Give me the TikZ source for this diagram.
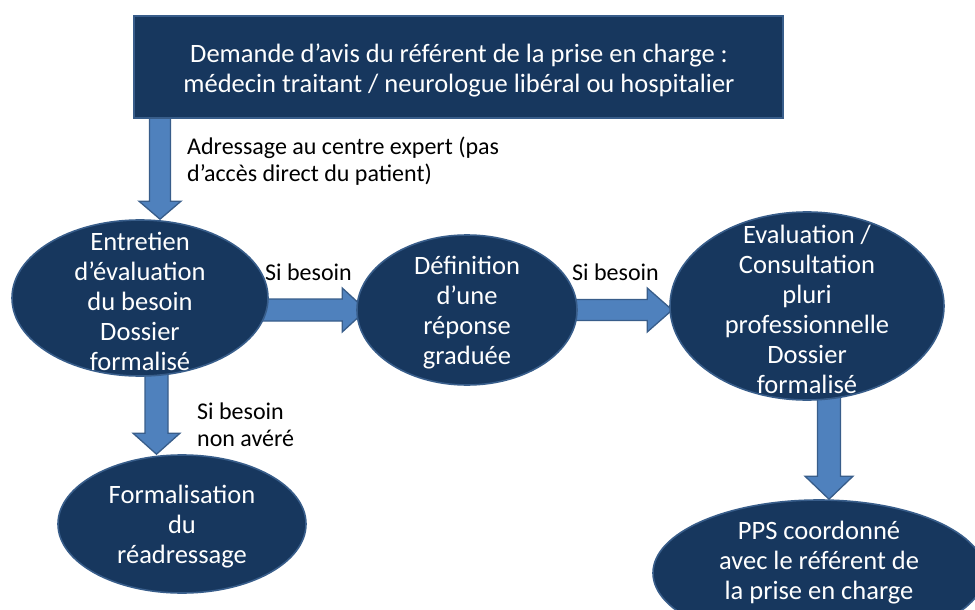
\documentclass[tikz,border=0pt]{standalone}
\usepackage{fontspec}
\setmainfont{Carlito}
\usetikzlibrary{shapes.geometric,calc}

\definecolor{navy}{HTML}{17375E}
\definecolor{rim}{HTML}{385D8A}
\definecolor{arrowfill}{HTML}{4F81BD}

\pgfdeclarelayer{behind}
\pgfsetlayers{behind,main}

% Downward block arrow: #1 source, #2 target tip, #3 x shift of the axis from
% the target, #4 shaft half width, #5 head half width, #6 head length
\newcommand{\downblock}[6]{%
  \draw[blockarrow] let \p1=(#1), \p2=(#2) in
    ({\x2+(#3)-(#4)},\y1) -- ({\x2+(#3)+(#4)},\y1)
    -- ({\x2+(#3)+(#4)},{\y2+(#6)}) -- ({\x2+(#3)+(#5)},{\y2+(#6)})
    -- ({\x2+(#3)},\y2)
    -- ({\x2+(#3)-(#5)},{\y2+(#6)}) -- ({\x2+(#3)-(#4)},{\y2+(#6)}) -- cycle;}

% Rightward block arrow: #1 source, #2 target tip, #3 shaft half width,
% #4 head half width, #5 head length
\newcommand{\rightblock}[5]{%
  \draw[blockarrow] let \p1=(#1), \p2=(#2) in
    (\x1,{\y2+(#3)}) -- ({\x2-(#5)},{\y2+(#3)}) -- ({\x2-(#5)},{\y2+(#4)})
    -- (\x2,\y2)
    -- ({\x2-(#5)},{\y2-(#4)}) -- ({\x2-(#5)},{\y2-(#3)}) -- (\x1,{\y2-(#3)}) -- cycle;}

\tikzset{
  bubble/.style={ellipse, draw=rim, line width=1.6pt, fill=navy, inner sep=0pt},
  headbox/.style={rectangle, draw=rim, line width=1.6pt, fill=navy, inner sep=0pt},
  whitetext/.style={text=white, align=center, inner sep=0pt,
                    font=\fontsize{26.5}{30}\selectfont},
  note/.style={text=black, align=left, inner sep=0pt, anchor=west,
               font=\fontsize{24}{27}\selectfont},
  blockarrow/.style={draw=rim, line width=1.3pt, fill=arrowfill, line join=miter}
}

\begin{document}
\begin{tikzpicture}[x=1pt, y=-1pt]
  \useasboundingbox (0,0) rectangle (975,610);

  % header box
  \node[headbox, minimum width=649, minimum height=102] (box) at (458.5,67) {};
  \node[whitetext] (boxtext) at (459,70)
    {Demande d’avis du référent de la prise en charge :\\
     médecin traitant / neurologue libéral ou hospitalier};

  % ellipses
  \node[bubble, minimum width=256, minimum height=156] (e1) at (140,298) {};
  \node[whitetext] (t1) at (140,301)
    {Entretien\\d’évaluation\\du besoin\\Dossier\\formalisé};

  \node[bubble, minimum width=220, minimum height=150] (e2) at (467,310) {};
  \node[whitetext] (t2) at (467,313)
    {Définition\\d’une\\réponse\\graduée};

  \node[bubble, minimum width=248, minimum height=138] (e3) at (182,524) {};
  \node[whitetext] (t3) at (182,527)
    {Formalisation\\du\\réadressage};

  \node[bubble, minimum width=274, minimum height=188] (e4) at (807,306) {};
  \node[whitetext] (t4) at (807,309)
    {Evaluation /\\Consultation\\pluri\\professionnelle\\Dossier\\formalisé};

  \node[bubble, minimum width=332, minimum height=146] (e5) at (819,573) {};
  \node[whitetext] (t5) at (819,563)
    {PPS coordonné\\avec le référent de\\la prise en charge};

  % block arrows, kept behind the shapes
  \begin{pgfonlayer}{behind}
    \downblock{box.center}{e1.north}{20}{10.5}{21}{18}
    \downblock{e1.center}{e3.north}{-25.5}{11.5}{23.5}{21}
    \downblock{e4.center}{e5.north}{10}{11.5}{24}{23}
    \rightblock{e1.center}{$(e2.west)+(10,0)$}{11}{22}{24}
    \rightblock{e2.center}{$(e4.west)+(3,4)$}{10.5}{22}{25}
  \end{pgfonlayer}

  % arrow labels
  \node[note] (l1) at (187,161)
    {Adressage au centre expert (pas\\d’accès direct du patient)};
  \node[note] (l2) at (265,272) {Si besoin};
  \node[note] (l3) at (572,272) {Si besoin};
  \node[note] (l4) at (197,425) {Si besoin\\non avéré};
\end{tikzpicture}
\end{document}
